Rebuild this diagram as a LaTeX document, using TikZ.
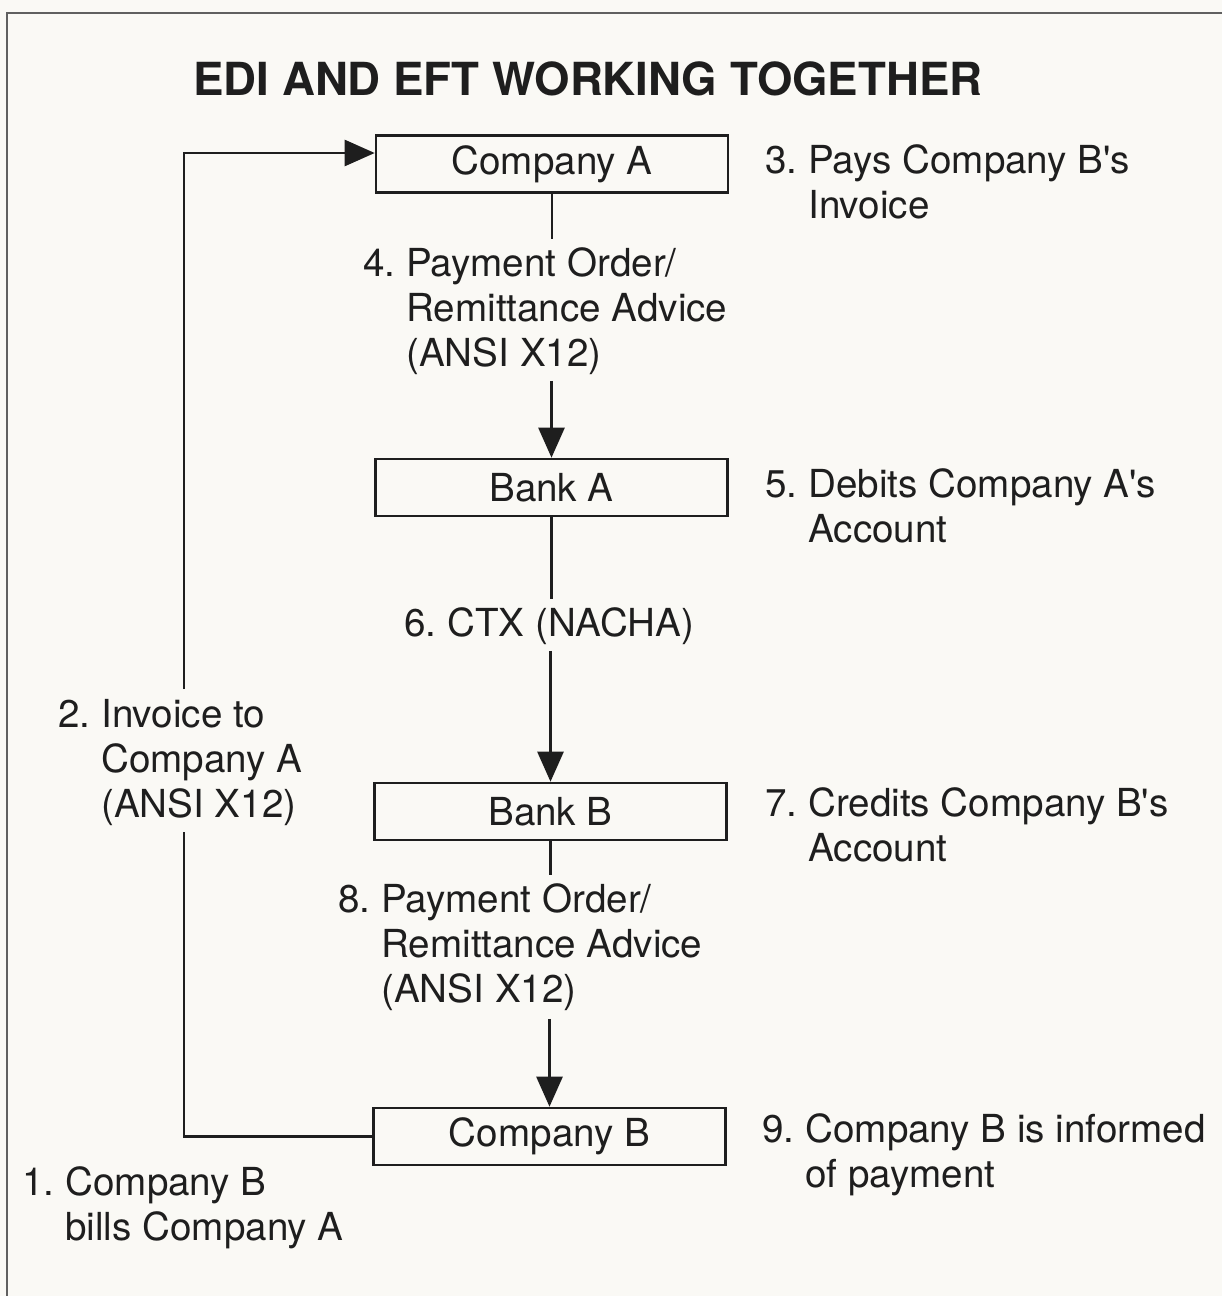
\documentclass[tikz,border=0pt]{standalone}
\usepackage{fontspec}
\setmainfont{TeX Gyre Heros}
\usetikzlibrary{arrows.meta,calc}
\definecolor{paper}{HTML}{FAF9F5}
\definecolor{ink}{HTML}{1E1E1E}
\newcommand{\apos}{\textquotesingle}
\frenchspacing
\begin{document}
\begin{tikzpicture}[x=0.5pt,y=-0.5pt,
  stage/.style={draw=ink, text=ink, line width=1.3pt, minimum width=176pt,
    minimum height=28.5pt, inner sep=0pt, font=\fontsize{19.3}{22}\selectfont},
  note/.style={anchor=north west, inner sep=0pt, align=left, text=ink,
    font=\fontsize{19.3}{22.5}\selectfont},
  link/.style={draw=ink, line width=1.3pt},
  flow/.style={link, -{Triangle[length=15pt,width=13pt]}},
  frame/.style={draw=gray!75!black, line width=0.8pt}
]
% paper and its frame
\fill[paper] (0,0) rectangle (1222,1296);
\useasboundingbox (0,0) rectangle (1222,1296);
\draw[frame] (1222,13) -- (7,13) -- (7,1296);

% title
\node[anchor=base west, inner sep=0pt, text=ink,
  font=\fontsize{22.8}{26}\selectfont\bfseries] (title) at (193,95)
  {EDI AND EFT WORKING TOGETHER};

% the four parties
\node[stage] (ca) at (552,164)    {Company A};
\node[stage] (ba) at (551.5,487.5) {Bank A};
\node[stage] (bb) at (550.5,811.5) {Bank B};
\node[stage] (cb) at (549.5,1136.5) {Company B};

% step descriptions
\node[note] (n3) at (765,144) {3. Pays Company B\apos s\\\hphantom{3.\ }Invoice};
\node[note] (n4) at (363,247) {4. Payment Order/\\\hphantom{4.\ }Remittance Advice\\\hphantom{4.\ }(ANSI X12)};
\node[note] (n5) at (765,468) {5. Debits Company A\apos s\\\hphantom{5.\ }Account};
\node[note] (n6) at (404,607) {6. CTX (NACHA)};
\node[note] (n2) at (58,699)  {2. Invoice to\\\hphantom{2.\ }Company A\\\hphantom{2.\ }(ANSI X12)};
\node[note] (n7) at (765,787) {7. Credits Company B\apos s\\\hphantom{7.\ }Account};
\node[note] (n8) at (338,883) {8. Payment Order/\\\hphantom{8.\ }Remittance Advice\\\hphantom{8.\ }(ANSI X12)};
\node[note] (n9) at (762,1113) {9. Company B is informed\\\hphantom{9.\ }of payment};
\node[note] (n1) at (22,1166) {1. Company B\\\hphantom{1.\ }bills Company A};

% Company A -> Bank A
\draw[link, shorten >=4pt] (ca.south) -- (ca.south |- n4.north);
\draw[flow, shorten <=3pt] (ba.north |- n4.south) -- (ba.north);
% Bank A -> Bank B
\draw[link, shorten >=4pt] (ba.south) -- (ba.south |- n6.north);
\draw[flow, shorten <=3pt] (bb.north |- n6.south) -- (bb.north);
% Bank B -> Company B
\draw[link, shorten >=4pt] (bb.south) -- (bb.south |- n8.north);
\draw[flow, shorten <=4pt] (cb.north |- n8.south) -- (cb.north);
% Company B -> Company A (invoice loop)
\coordinate (turn) at (184,153);
\draw[link, shorten >=3pt] (cb.west) -| (turn |- n2.south);
\draw[flow, shorten <=5pt] (turn |- n2.north) -- (turn) -- (turn -| ca.west);
\end{tikzpicture}
\end{document}
